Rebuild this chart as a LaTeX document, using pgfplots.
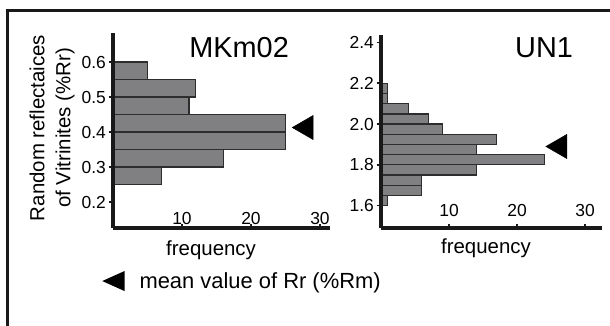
\documentclass[border=0pt]{standalone}
\usepackage{fontspec}
\setmainfont{Liberation Sans}
\usepackage{pgfplots}
\pgfplotsset{compat=1.18}
\definecolor{barfill}{RGB}{128,128,130}
\definecolor{baredge}{RGB}{45,45,45}
\definecolor{axline}{RGB}{25,25,25}
\pgfplotsset{
  hist/.style={
    scale only axis, axis on top,
    axis x line=bottom, axis y line=left,
    axis line style={-, line width=3.2bp, axline},
    xmin=0, xtick={10,20,30},
    xtick align=inside, ytick align=outside,
    major tick length=4.5bp,
    every tick/.style={axline, line width=1.8bp},
    /pgf/number format/assume math mode=true,
    tick label style={font=\fontsize{17.5}{20}\selectfont, inner sep=0pt},
    yticklabel style={anchor=east, xshift=-2.5bp, /pgf/number format/fixed, /pgf/number format/fixed zerofill, /pgf/number format/precision=1},
    label style={font=\fontsize{20.5}{26}\selectfont},
    title style={font=\fontsize{29}{32}\selectfont, anchor=center},
    clip=false,
  },
  bars/.style={xbar, bar width=0.05, fill=barfill, draw=baredge, line width=1.3bp},
  meanmark/.style={only marks, mark=triangle*, mark size=14bp, mark options={rotate=90, fill=black, draw=black}},
}
\begin{document}
\begin{tikzpicture}[x=1bp,y=1bp]
\useasboundingbox (0,0) rectangle (610,325);
\draw[line width=3bp, axline] (7.5,-5) -- (7.5,314.7) -- (615,314.7);

\begin{axis}[hist,
  at={(113bp,97bp)}, anchor=south west,
  width=217bp, height=195bp,
  xmax=31.45, ymin=0.126, ymax=0.683,
  ytick={0.2,0.3,0.4,0.5,0.6},
  xticklabel style={anchor=south, yshift=3bp},
  title={MKm02}, title style={at={(axis description cs:0.581,0.897)}},
  xlabel={frequency}, xlabel style={at={(axis description cs:0.452,-0.113)}, anchor=center},
  ylabel={Random reflectaices\\of Vitrinites (\%Rr)},
  ylabel style={at={(axis description cs:-0.281,0.513)}, anchor=center, rotate=0, align=center},
  legend style={at={(axis description cs:-0.046,-0.272)}, anchor=west, draw=none, fill=none,
    font=\fontsize{22}{26}\selectfont, inner sep=0pt},
  legend cell align=left,
  legend image code/.code={\fill[black] (0,0) -- (20bp,9bp) -- (20bp,-9bp) -- cycle; \path (33bp,0);},
]
\addplot[bars] coordinates {
 (5,0.575) (12,0.525) (11,0.475) (25,0.425) (25,0.375) (16,0.325) (7,0.275)
};
\addplot[meanmark] coordinates {(28.0,0.413)};
\addlegendentry{mean value of Rr (\%Rm)}
\end{axis}

\begin{axis}[hist,
  at={(381bp,97bp)}, anchor=south west,
  width=221bp, height=193bp,
  xmax=32.5, ymin=1.49, ymax=2.437,
  ytick={1.6,1.8,2.0,2.2,2.4},
  xticklabel style={anchor=south, yshift=11bp},
  title={UN1}, title style={at={(axis description cs:0.738,0.902)}},
  xlabel={frequency}, xlabel style={at={(axis description cs:0.475,-0.104)}, anchor=center},
]
\addplot[bars] coordinates {
 (1,1.625) (6,1.675) (6,1.725) (14,1.775) (24,1.825) (14,1.875)
 (17,1.925) (9,1.975) (7,2.025) (4,2.075) (1,2.125) (1,2.175)
};
\addplot[meanmark] coordinates {(26.3,1.89)};
\end{axis}
\end{tikzpicture}
\end{document}
